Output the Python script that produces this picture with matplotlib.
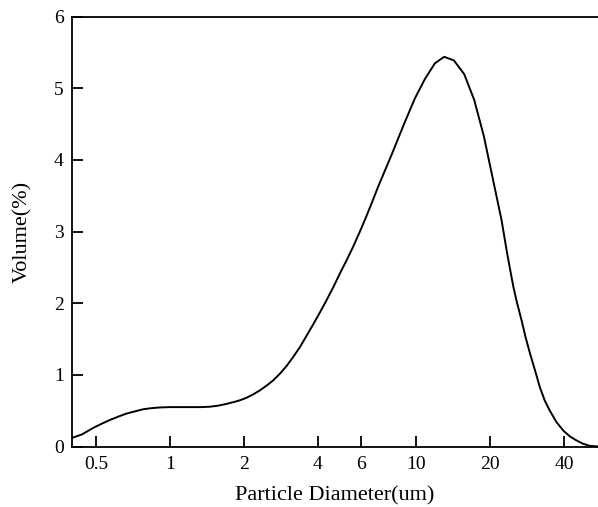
import matplotlib
matplotlib.use("Agg")
import matplotlib.pyplot as plt
from matplotlib.ticker import FixedLocator, NullLocator, FixedFormatter

diameter = [0.40, 0.44, 0.488, 0.53, 0.57, 0.62, 0.667, 0.72, 0.779, 0.84, 0.911,
            1.0, 1.065, 1.15, 1.24, 1.34, 1.45, 1.57, 1.70, 1.84, 1.926, 2.05,
            2.18, 2.32, 2.47, 2.63, 2.80, 2.98, 3.17, 3.38, 3.59, 3.82, 4.07,
            4.33, 4.61, 4.91, 5.23, 5.56, 5.92, 6.25, 6.6, 7.03, 7.96, 9.02,
            9.91, 10.88, 11.95, 13.03, 14.27, 15.71, 17.26, 18.9, 20.6, 22.3,
            23.5, 24.9, 25.8, 26.9, 27.9, 29.1, 30.5, 31.9, 33.4, 35.0, 37.3,
            39.7, 42.3, 45.0, 47.9, 51.0, 55.0]
volume = [0.12, 0.17, 0.26, 0.32, 0.37, 0.42, 0.46, 0.49, 0.52, 0.535, 0.545,
          0.55, 0.55, 0.55, 0.55, 0.55, 0.555, 0.57, 0.595, 0.625, 0.645, 0.681,
          0.727, 0.783, 0.849, 0.923, 1.016, 1.123, 1.249, 1.389, 1.543, 1.702, 1.87,
          2.04, 2.22, 2.415, 2.60, 2.79, 3.00, 3.19, 3.39, 3.63, 4.07, 4.53,
          4.86, 5.13, 5.35, 5.44, 5.39, 5.20, 4.84, 4.33, 3.72, 3.16,
          2.695, 2.23, 2.0, 1.76, 1.53, 1.30, 1.063, 0.83, 0.643, 0.503, 0.34,
          0.224, 0.14, 0.084, 0.037, 0.009, 0.0]

xticks = [0.5, 1, 2, 4, 6, 10, 20, 40]
xtick_labels = ["0.5", "1", "2", "4", "6", "10", "20", "40"]
yticks = [0, 1, 2, 3, 4, 5, 6]

plt.rcParams['font.family'] = ['Liberation Serif', 'DejaVu Serif']

fig = plt.figure(figsize=(5.98, 5.07), dpi=100)
ax = fig.add_axes([72/598, (507-446.5)/507, (598-72)/598, (446.5-16.7)/507])
ax.plot(diameter, volume, color='black', lw=1.4)
ax.set_xscale('log')
ax.set_xlim(0.4, 55)
ax.set_ylim(0, 6)
ax.xaxis.set_major_locator(FixedLocator(xticks))
ax.xaxis.set_major_formatter(FixedFormatter(xtick_labels))
ax.xaxis.set_minor_locator(NullLocator())
ax.set_yticks(yticks)
ax.tick_params(direction='in', length=8, width=1.3, labelsize=14,
               top=False, right=False)
ax.tick_params(axis='x', pad=7)
ax.tick_params(axis='y', pad=6)
for s in ['left', 'bottom', 'top']:
    ax.spines[s].set_linewidth(1.3)
ax.spines['right'].set_visible(False)
ax.set_xlabel('Particle Diameter(um)', fontsize=16)
ax.set_ylabel('Volume(%)', fontsize=16)
ax.xaxis.set_label_coords(0.5, -(496 - 446.5) / (446.5 - 16.7), transform=ax.transAxes)
ax.yaxis.set_label_coords(-(72 - 23) / (598 - 72), 0.5, transform=ax.transAxes)
ax.xaxis.label.set_va('center')
ax.yaxis.label.set_va('center')
fig.savefig('out.png', dpi=100)
